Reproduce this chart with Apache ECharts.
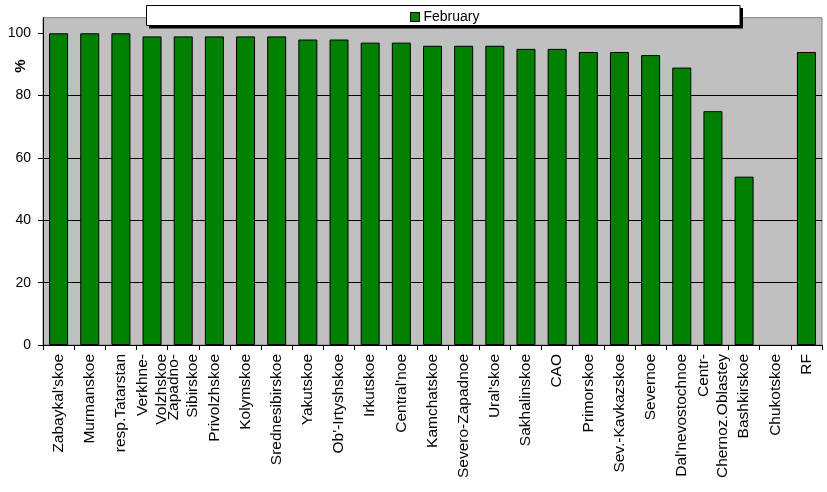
<!DOCTYPE html>
<html>
<head>
<meta charset="utf-8">
<script src="https://cdn.jsdelivr.net/npm/echarts@6/dist/echarts.min.js"></script>
<style>
html,body{margin:0;padding:0;background:#fff;}
#chart{width:827px;height:492px;}
</style>
</head>
<body>
<div id="chart"></div>
<script>
var categories = ["Zabaykal'skoe", "Murmanskoe", "resp.Tatarstan", "Verkhne-\nVolzhskoe", "Zapadno-\nSibirskoe",
  "Privolzhskoe", "Kolymskoe", "Srednesibirskoe", "Yakutskoe", "Ob'-Irtyshskoe", "Irkutskoe", "Central'noe",
  "Kamchatskoe", "Severo-Zapadnoe", "Ural'skoe", "Sakhalinskoe", "CAO", "Primorskoe", "Sev.-Kavkazskoe",
  "Severnoe", "Dal'nevostochnoe", "Centr-\nChernoz.Oblastey", "Bashkirskoe", "Chukotskoe", "RF"];
var february = [100, 100, 100, 99, 99, 99, 99, 99, 98, 98, 97, 97, 96, 96, 96, 95, 95, 94, 94, 93, 89, 75, 54, null, 94];
var yTicks = [0, 20, 40, 60, 80, 100];
var seriesName = "February";
var yUnit = "%";

var chart = echarts.init(document.getElementById('chart'), null, {renderer: 'canvas'});
var font = "'Liberation Sans', Arial, sans-serif";
chart.setOption({
  animation: false,
  backgroundColor: '#ffffff',
  textStyle: {fontFamily: font},
  grid: {
    left: 43, right: 5, top: 17.7, bottom: 147,
    show: true, backgroundColor: '#C0C0C0', borderColor: '#808080', borderWidth: 1
  },
  graphic: [
    {type: 'rect', z: 1, shape: {x: 149, y: 8, width: 594, height: 20.5}, style: {fill: '#000'}},
    {type: 'rect', z: 2, shape: {x: 146.5, y: 5.5, width: 593.5, height: 20}, style: {fill: '#fff', stroke: '#000', lineWidth: 1}},
    {type: 'text', z: 5, x: 21, y: 66, rotation: Math.PI / 2,
      style: {text: yUnit, fontFamily: font, fontSize: 15, fontWeight: 'bold', fill: '#000', align: 'center', verticalAlign: 'middle'}}
  ],
  legend: {
    data: [seriesName],
    left: 410, top: 9, padding: 0, z: 10,
    icon: 'rect', itemWidth: 9, itemHeight: 9, itemGap: 4,
    itemStyle: {borderColor: '#000', borderWidth: 1},
    textStyle: {fontFamily: font, fontSize: 14, color: '#000', lineHeight: 16, padding: [0, 0, 0, -1]}
  },
  xAxis: {
    type: 'category',
    data: categories,
    axisLine: {show: true, lineStyle: {color: '#000', width: 1}},
    axisTick: {show: true, length: 5, lineStyle: {color: '#000'}},
    axisLabel: {interval: 0, rotate: 90, margin: 9, fontFamily: font, fontSize: 15.5, lineHeight: 19, color: '#000'},
    splitLine: {show: false}
  },
  yAxis: {
    type: 'value',
    min: 0, max: 105, interval: 20,
    axisLine: {show: true, lineStyle: {color: '#000', width: 1}},
    axisTick: {show: true, length: 5, lineStyle: {color: '#000'}, customValues: yTicks},
    axisLabel: {margin: 12, fontFamily: font, fontSize: 14, color: '#000', customValues: yTicks},
    splitLine: {show: true, showMaxLine: false, lineStyle: {color: '#000', width: 1}}
  },
  series: [{
    name: seriesName,
    type: 'bar',
    data: february,
    barWidth: 19,
    itemStyle: {color: '#008000', borderColor: '#000', borderWidth: 1}
  }]
});
</script>
</body>
</html>
